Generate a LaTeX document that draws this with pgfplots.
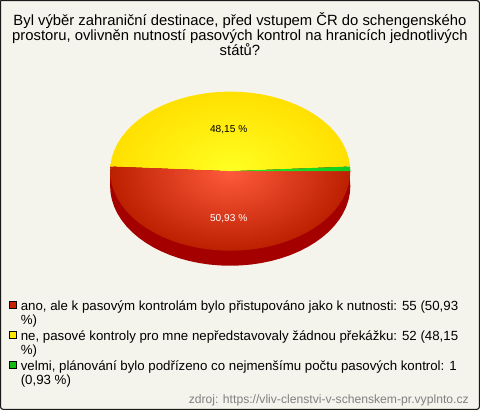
\documentclass[border=0pt]{standalone}
\usepackage{pgfplots}
\pgfplotsset{compat=1.18}
\usepackage{pgfplotstable}
\usepackage{fontspec}
\setmainfont{Liberation Sans}
\definecolor{bgc}{HTML}{F5F4EC}
\definecolor{redin}{HTML}{FF5A3C}
\definecolor{redout}{HTML}{BB2000}
\definecolor{redside}{HTML}{A50000}
\definecolor{yelin}{HTML}{FFFF22}
\definecolor{yelout}{HTML}{FFE000}
\definecolor{grnin}{HTML}{22EE22}
\definecolor{grnout}{HTML}{11CC22}
\definecolor{keyred}{HTML}{C82200}
\definecolor{keyyel}{HTML}{FFE600}
\definecolor{keygrn}{HTML}{11BB11}
% answers: 55 (50,93 %), 52 (48,15 %), 1 (0,93 %); the pie is drawn in pixels round its centre
\pgfplotstableread{
x y
120 0
119.54 6.93
118.18 13.81
115.91 20.58
112.76 27.19
108.76 33.60
103.92 39.75
98.30 45.60
91.92 51.10
84.85 56.22
77.13 60.90
68.83 65.12
60 68.85
50.71 72.05
41.04 74.71
31.06 76.79
20.84 78.29
10.46 79.20
0 79.5
-10.46 79.20
-20.84 78.29
-31.06 76.79
-41.04 74.71
-50.71 72.05
-60 68.85
-68.83 65.12
-77.13 60.90
-84.85 56.22
-91.92 51.10
-98.30 45.60
-103.92 39.75
-108.76 33.60
-112.76 27.19
-115.91 20.58
-118.18 13.81
-119.54 6.93
-120 0
-119.54 -6.93
-118.18 -13.81
-115.91 -20.58
-112.76 -27.19
-108.76 -33.60
-103.92 -39.75
-98.30 -45.60
-91.92 -51.10
-84.85 -56.22
-77.13 -60.90
-68.83 -65.12
-60 -68.85
-50.71 -72.05
-41.04 -74.71
-31.06 -76.79
-20.84 -78.29
-10.46 -79.20
0 -79.5
10.46 -79.20
20.84 -78.29
31.06 -76.79
41.04 -74.71
50.71 -72.05
60 -68.85
68.83 -65.12
77.13 -60.90
84.85 -56.22
91.92 -51.10
98.30 -45.60
103.92 -39.75
108.76 -33.60
112.76 -27.19
115.91 -20.58
118.18 -13.81
119.54 -6.93
120 0
}\ellipsetable
\newcommand{\ttl}[2]{\node[anchor=base,font=\fontsize{11.1pt}{13pt}\selectfont,inner sep=0pt] at (axis cs:9.7,#1) {#2};}
\newcommand{\leg}[2]{\node[anchor=base west,font=\fontsize{9.95pt}{12pt}\selectfont,inner sep=0pt] at (axis cs:-209.5,#1) {#2};}
\begin{document}
\begin{tikzpicture}
\begin{axis}[
  hide axis, scale only axis, width=360pt, height=307.5pt,
  xmin=-230, xmax=250, ymin=-239, ymax=171, clip=true]
\addplot[fill=bgc, draw=black!90, line width=0.85pt, rounded corners=2pt] coordinates {(-229.5,170.5) (249,170.5) (249,-238) (-229.5,-238) (-229.5,170.5)};
% side of the pie
\addplot[fill=redside, draw=none, yshift=-11.25pt, no marks] table {\ellipsetable};
\addplot[fill=redside, draw=none] coordinates {(-120,0) (120,0) (120,-15) (-120,-15)};
% yellow
\begin{scope}
\clip (axis cs:0,0) -- (axis cs:239.6,9.3) -- (axis cs:239.6,200) -- (axis cs:-239.6,200) -- (axis cs:-239.6,9.3) -- cycle;
\addplot[inner color=yelin, outer color=yelout, draw=none, no marks] table {\ellipsetable};
\end{scope}
% red
\begin{scope}
\clip (axis cs:0,0) -- (axis cs:-239.6,9.3) -- (axis cs:-239.6,-200) -- (axis cs:239.6,-200) -- (axis cs:239.6,0) -- cycle;
\addplot[inner color=redin, outer color=redout, draw=none, no marks] table {\ellipsetable};
\end{scope}
% green
\begin{scope}
\clip (axis cs:0,0) -- (axis cs:239.6,9.3) -- (axis cs:239.6,0) -- cycle;
\addplot[inner color=grnin, outer color=grnout, draw=none, no marks] table {\ellipsetable};
\end{scope}
\node[anchor=base,font=\fontsize{7.6pt}{9pt}\selectfont,black,inner sep=0pt] at (axis cs:-1.5,39) {48,15 \%};
\node[anchor=base,font=\fontsize{7.6pt}{9pt}\selectfont,white,inner sep=0pt] at (axis cs:-1.5,-50) {50,93 \%};
\ttl{146}{Byl výběr zahraniční destinace, před vstupem ČR do schengenského}
\ttl{131}{prostoru, ovlivněn nutností pasových kontrol na hranicích jednotlivých}
\ttl{116}{států?}
% legend keys
\addplot[only marks, mark=square*, mark size=2.6pt, mark options={fill=keyred, draw=black, line width=0.55pt}] coordinates {(-216.7,-134)};
\addplot[only marks, mark=square*, mark size=2.6pt, mark options={fill=keyyel, draw=black, line width=0.55pt}] coordinates {(-216.7,-164)};
\addplot[only marks, mark=square*, mark size=2.6pt, mark options={fill=keygrn, draw=black, line width=0.55pt}] coordinates {(-216.7,-194)};
\leg{-139}{ano, ale k pasovým kontrolám bylo přistupováno jako k nutnosti: 55 (50,93}
\leg{-153}{\%)}
\leg{-169}{ne, pasové kontroly pro mne nepředstavovaly žádnou překážku: 52 (48,15}
\leg{-183}{\%)}
\leg{-199}{velmi, plánování bylo podřízeno co nejmenšímu počtu pasových kontrol: 1}
\leg{-213}{(0,93 \%)}
\node[anchor=base east,font=\fontsize{9.1pt}{10pt}\selectfont,text=black!50,inner sep=0pt] at (axis cs:238.5,-232) {zdroj: https://vliv-clenstvi-v-schenskem-pr.vyplnto.cz};
\end{axis}
\end{tikzpicture}
\end{document}
